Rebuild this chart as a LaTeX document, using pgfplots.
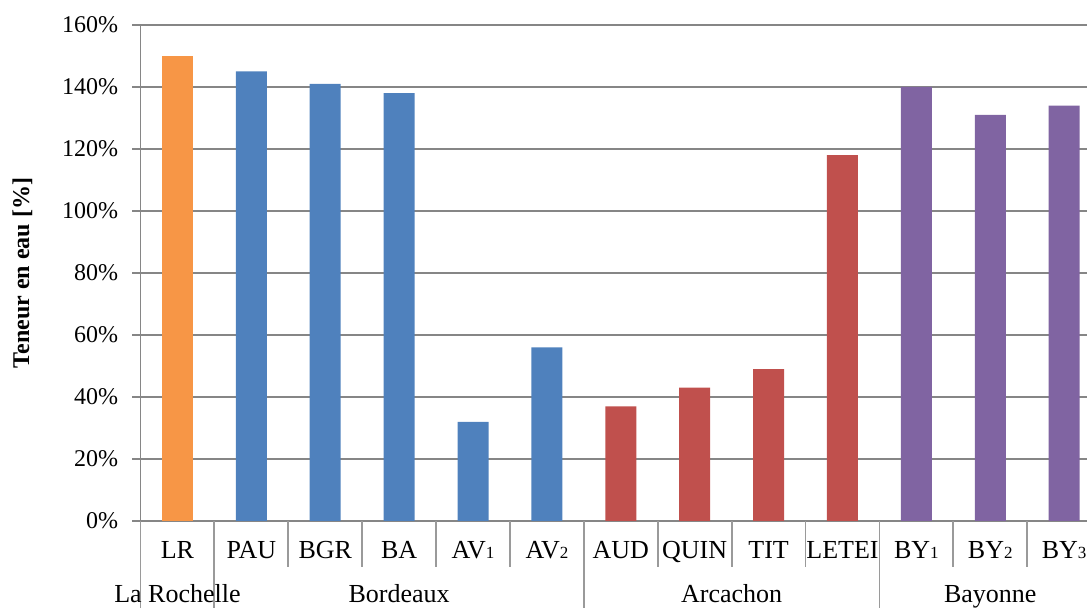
\documentclass[border=0pt,12pt]{standalone}
\usepackage{fontspec}
\setmainfont{Liberation Serif}
\usepackage{pgfplots}
\pgfplotsset{compat=1.18}
\definecolor{cLR}{HTML}{F79646}
\definecolor{cBX}{HTML}{4F81BD}
\definecolor{cAR}{HTML}{C0504D}
\definecolor{cBY}{HTML}{8064A2}
\definecolor{cGrid}{HTML}{868686}
\definecolor{cSep}{HTML}{9A9A9A}
\newcommand{\sub}[1]{{\fontsize{8.5}{8.5}\selectfont #1}}
\begin{document}
\begin{tikzpicture}
\begin{axis}[
    name=ax,
    scale only axis,
    width=480.3pt, height=248pt,
    xmin=-0.5, xmax=12.5,
    ymin=0, ymax=160,
    clip=false,
    axis x line*=bottom,
    axis y line*=left,
    axis line style={cGrid, line width=0.9pt},
    ytick={0,20,...,160},
    yticklabels={0\%,20\%,40\%,60\%,80\%,100\%,120\%,140\%,160\%},
    ymajorgrids,
    major grid style={cGrid, line width=0.9pt},
    tick align=outside,
    major tick length=4pt,
    ytick style={cGrid, line width=0.9pt},
    yticklabel style={xshift=-3pt},
    xtick={0,...,12},
    xticklabels={LR,PAU,BGR,BA,AV\sub{1},AV\sub{2},AUD,QUIN,TIT,LETEI,BY\sub{1},BY\sub{2},BY\sub{3}},
    xtick style={draw=none},
    xticklabel style={anchor=base, yshift=-15pt, font=\fontsize{13}{15}\selectfont},
    ylabel={Teneur en eau [\%]},
    every axis y label/.style={at={(axis description cs:0,0.5)}, xshift=-59pt, anchor=center, rotate=90, font=\bfseries},
]
\addplot[ybar, bar width=15.5pt, bar shift=0pt, fill=cLR, draw=none] coordinates {(0,150)};
\addplot[ybar, bar width=15.5pt, bar shift=0pt, fill=cBX, draw=none] coordinates {(1,145) (2,141) (3,138) (4,32) (5,56)};
\addplot[ybar, bar width=15.5pt, bar shift=0pt, fill=cAR, draw=none] coordinates {(6,37) (7,43) (8,49) (9,118)};
\addplot[ybar, bar width=15.5pt, bar shift=0pt, fill=cBY, draw=none] coordinates {(10,140) (11,131) (12,134)};
% separators between categories
\pgfplotsinvokeforeach{1.5,2.5,3.5,4.5,6.5,7.5,8.5,10.5,11.5}{
  \draw[cSep, line width=0.9pt] (axis cs:#1,0) -- ([yshift=-23pt]axis cs:#1,0);
}
% separators between groups
\pgfplotsinvokeforeach{-0.5,0.5,5.5,9.5}{
  \draw[cSep, line width=0.9pt] (axis cs:#1,0) -- ([yshift=-60pt]axis cs:#1,0);
}
\node[anchor=base, font=\fontsize{13}{15}\selectfont] at ([yshift=-41pt]axis cs:0,0) {La Rochelle};
\node[anchor=base, font=\fontsize{13}{15}\selectfont] at ([yshift=-41pt]axis cs:3,0) {Bordeaux};
\node[anchor=base, font=\fontsize{13}{15}\selectfont] at ([yshift=-41pt]axis cs:7.5,0) {Arcachon};
\node[anchor=base, font=\fontsize{13}{15}\selectfont] at ([yshift=-41pt]axis cs:11,0) {Bayonne};
\end{axis}
\pgfresetboundingbox
\useasboundingbox ([shift={(-70.25pt,-43.5pt)}]ax.south west) rectangle ([shift={(473.25pt,260.5pt)}]ax.south west);
\end{tikzpicture}
\end{document}
